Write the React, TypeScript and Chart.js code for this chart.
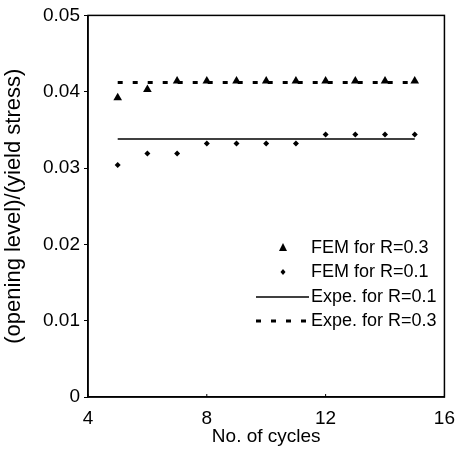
import React, { useEffect, useRef } from "react";
import { Chart, registerables } from "chart.js";

Chart.register(...registerables);

const cycles = [5, 6, 7, 8, 9, 10, 11, 12, 13, 14, 15];
const femR03 = [0.0392, 0.0403, 0.0414, 0.0414, 0.0414, 0.0414, 0.0414, 0.0414, 0.0414, 0.0414, 0.0414];
const femR01 = [0.0304, 0.0319, 0.0319, 0.0332, 0.0332, 0.0332, 0.0332, 0.0344, 0.0344, 0.0344, 0.0344];
const expeCycles = [5, 15];
const expeR01 = [0.0338, 0.0338];
const expeR03 = [0.0412, 0.0412];
const xTicks = [4, 8, 12, 16];
const yTicks = [0, 0.01, 0.02, 0.03, 0.04, 0.05];

const FONT = "'Liberation Sans', Arial, sans-serif";

const boxPlugin = {
  id: "boxAndLegend",
  afterDraw(chart: any) {
    const { ctx, chartArea } = chart;
    const { left, right, top, bottom } = chartArea;
    ctx.save();
    ctx.strokeStyle = "#000";
    ctx.lineWidth = 1.5;
    ctx.strokeRect(left, top, right - left, bottom - top);
    const xs = chart.scales.x;
    ctx.lineWidth = 1;
    xTicks.forEach((t) => {
      const px = xs.getPixelForValue(t);
      ctx.beginPath();
      ctx.moveTo(px, bottom);
      ctx.lineTo(px, bottom - 3);
      ctx.stroke();
    });
    const rows = [248, 272, 297, 321];
    const textX = 311;
    const markX = 283;
    ctx.font = `18px ${FONT}`;
    ctx.fillStyle = "#000";
    ctx.textBaseline = "middle";
    ctx.textAlign = "left";
    chart.data.datasets.forEach((ds: any, i: number) => {
      const y = rows[i];
      ctx.save();
      if (ds.showLine) {
        ctx.strokeStyle = "#000";
        ctx.lineWidth = ds.borderWidth;
        ctx.setLineDash(ds.borderDash || []);
        ctx.beginPath();
        ctx.moveTo(256, y);
        ctx.lineTo(309, y);
        ctx.stroke();
      } else {
        ctx.fillStyle = "#000";
        ctx.beginPath();
        if (ds.pointStyle === "triangle") {
          ctx.moveTo(markX, y - 5);
          ctx.lineTo(markX + 4, y + 3);
          ctx.lineTo(markX - 4, y + 3);
        } else {
          ctx.moveTo(markX, y - 3);
          ctx.lineTo(markX + 2.5, y);
          ctx.lineTo(markX, y + 3);
          ctx.lineTo(markX - 2.5, y);
        }
        ctx.closePath();
        ctx.fill();
      }
      ctx.restore();
      ctx.fillText(ds.label, textX, y);
    });
    ctx.restore();
  },
};

export default function App() {
  const ref = useRef<HTMLCanvasElement | null>(null);
  useEffect(() => {
    document.body.style.margin = "0";
    const canvas = ref.current!;
    const chart = new Chart(canvas, {
      type: "scatter",
      data: {
        datasets: [
          {
            label: "FEM for R=0.3",
            data: cycles.map((c, i) => ({ x: c, y: femR03[i] })),
            pointStyle: "triangle",
            pointRadius: 5,
            backgroundColor: "#000",
            borderColor: "#000",
            borderWidth: 0,
            showLine: false,
          },
          {
            label: "FEM for R=0.1",
            data: cycles.map((c, i) => ({ x: c, y: femR01[i] })),
            pointStyle: "rectRot",
            pointRadius: 3,
            backgroundColor: "#000",
            borderColor: "#000",
            borderWidth: 0,
            showLine: false,
          },
          {
            label: "Expe. for R=0.1",
            data: expeCycles.map((c, i) => ({ x: c, y: expeR01[i] })),
            showLine: true,
            pointRadius: 0,
            borderColor: "#000",
            borderWidth: 1.5,
            fill: false,
          },
          {
            label: "Expe. for R=0.3",
            data: expeCycles.map((c, i) => ({ x: c, y: expeR03[i] })),
            showLine: true,
            pointRadius: 0,
            borderColor: "#000",
            borderWidth: 3,
            borderDash: [5, 10],
            fill: false,
          },
        ],
      },
      options: {
        animation: false,
        responsive: false,
        layout: { padding: { top: 14, right: 13, left: 0, bottom: 0 } },
        plugins: { legend: { display: false }, tooltip: { enabled: false } },
        scales: {
          x: {
            type: "linear",
            min: 4,
            max: 16,
            afterBuildTicks: (s: any) => {
              s.ticks = xTicks.map((v) => ({ value: v }));
            },
            afterFit: (s: any) => {
              s.height = 71;
            },
            ticks: { color: "#000", font: { family: FONT, size: 19 }, padding: 10 },
            grid: { drawOnChartArea: false, drawTicks: false },
            border: { color: "#000", width: 1.5 },
            title: {
              display: true,
              text: "No. of cycles",
              color: "#000",
              font: { family: FONT, size: 19 },
              padding: { top: 0, bottom: 20 },
            },
          },
          y: {
            type: "linear",
            min: 0,
            max: 0.05,
            afterBuildTicks: (s: any) => {
              s.ticks = yTicks.map((v) => ({ value: v }));
            },
            afterFit: (s: any) => {
              s.width = 88;
            },
            ticks: {
              color: "#000",
              font: { family: FONT, size: 19 },
              padding: 4,
              callback: (v: any) => (Number(v) === 0 ? "0" : Number(v).toFixed(2)),
            },
            grid: { drawOnChartArea: false, drawTicks: true, tickLength: 4, color: "#000" },
            border: { color: "#000", width: 1.5 },
            title: {
              display: true,
              text: "(opening level)/(yield stress)",
              color: "#000",
              font: { family: FONT, size: 22 },
              padding: { top: 1, bottom: 0 },
            },
          },
        },
      },
      plugins: [boxPlugin],
    });
    return () => chart.destroy();
  }, []);
  return (
    <div style={{ width: 465, height: 468 }}>
      <canvas ref={ref} width={465} height={468} style={{ display: "block" }} />
    </div>
  );
}
